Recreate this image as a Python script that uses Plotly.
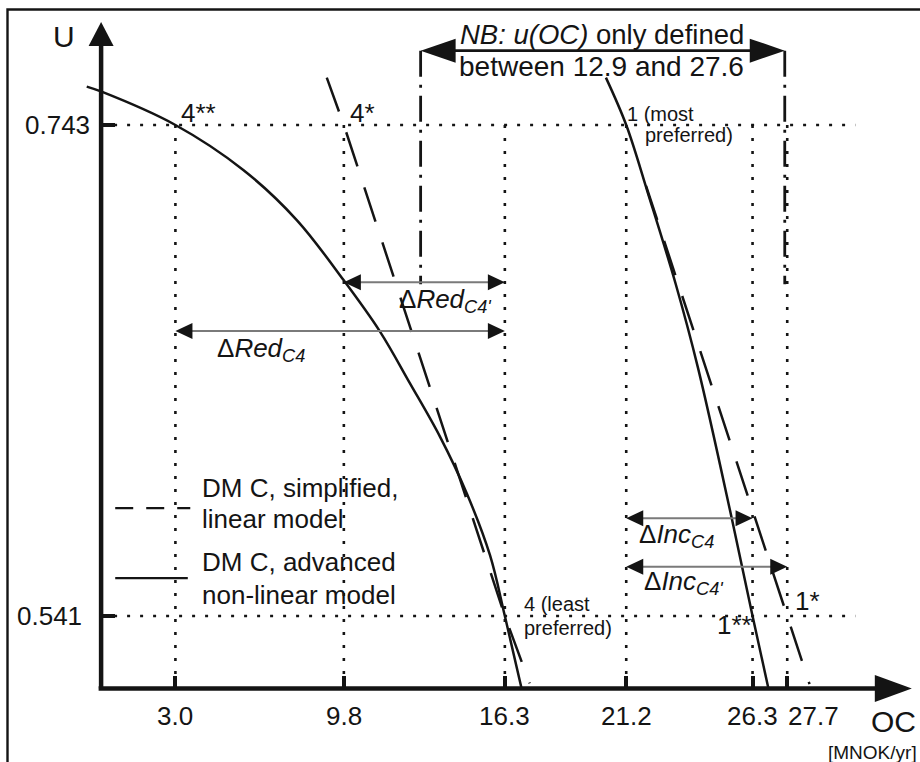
import plotly.graph_objects as go

FONT = "Liberation Sans, Arial, Helvetica, sans-serif"
INK = "#141414"
GREY = "#7a7a7a"

# ---------------- data ----------------
OC_TICKS = [3.0, 9.8, 16.3, 21.2, 26.3, 27.7]
OC_TICK_TEXT = ["3.0", "9.8", "16.3", "21.2", "26.3", "27.7"]
U_TICKS = [0.541, 0.743]
U_TICK_TEXT = ["0.541", "0.743"]
U_AXIS_MIN = 0.5112          # where the OC axis crosses the U axis
OC_DEFINED = [12.9, 27.6]    # u(OC) only defined between these

# DM C, advanced non-linear model, alternative 4
C4_NL_OC = [-0.58, 0.02, 3.0, 5.74, 7.90, 9.78, 11.26, 12.47, 13.68, 14.76, 15.70, 16.3, 16.98]
C4_NL_U = [0.7588, 0.7567, 0.743, 0.7245, 0.7039, 0.6793, 0.6580, 0.6367, 0.6148, 0.5915, 0.5660, 0.541, 0.5110]
# DM C, simplified linear model, alternative 4
C4_LIN_OC = [9.11, 9.8, 16.3, 17.3]
C4_LIN_U = [0.7625, 0.743, 0.541, 0.5133]
# DM C, advanced non-linear model, alternative 1
C1_NL_OC = [20.38, 21.2, 22.1, 23.2, 24.1, 25.46, 26.3, 26.95]
C1_NL_U = [0.7625, 0.743, 0.7142, 0.6775, 0.6430, 0.5812, 0.541, 0.5108]
# DM C, simplified linear model, alternative 1
C1_LIN_OC = [22.0, 27.7, 28.6]
C1_LIN_U = [0.718, 0.541, 0.513]

# Delta arrows: label, from OC, to OC, U level
DELTA_LABELS = ["Δ<i>Red</i><sub><i>C4'</i></sub>", "Δ<i>Red</i><sub><i>C4</i></sub>",
                "Δ<i>Inc</i><sub><i>C4</i></sub>", "Δ<i>Inc</i><sub><i>C4'</i></sub>"]
DELTA_FROM = [9.8, 3.0, 21.2, 21.2]
DELTA_TO = [16.3, 16.3, 26.3, 27.7]
DELTA_U = [0.6783, 0.6583, 0.5812, 0.5613]

# ---------------- view ----------------
X0, X1 = -4.0815, 33.060
Y0, Y1 = 0.48094, 0.79443
W, H = 920, 762

fig = go.Figure()

solid = dict(color=INK, width=2.5)
dashed = dict(color=INK, width=2.5, dash="36px,22px")

fig.add_trace(go.Scatter(x=C4_NL_OC, y=C4_NL_U, mode="lines",
                         line=dict(shape="spline", smoothing=1.0, **solid), hoverinfo="skip"))
fig.add_trace(go.Scatter(x=C1_NL_OC, y=C1_NL_U, mode="lines",
                         line=dict(shape="spline", smoothing=1.0, **solid), hoverinfo="skip"))
fig.add_trace(go.Scatter(x=C4_LIN_OC, y=C4_LIN_U, mode="lines", line=dashed, hoverinfo="skip"))
fig.add_trace(go.Scatter(x=C1_LIN_OC, y=C1_LIN_U, mode="lines", line=dashed, hoverinfo="skip"))

shapes = []


def seg(x0, y0, x1, y1, width, dash=None, color=INK, layer="below"):
    shapes.append(dict(type="line", xref="x", yref="y", x0=x0, y0=y0, x1=x1, y1=y1,
                       layer=layer, line=dict(color=color, width=width, dash=dash)))


def head(x, y, direction, length, half):
    """filled triangle (pixel sized) whose tip sits on data point (x, y)"""
    if direction == "right":
        path = f"M0,0 L{-length},{half} L{-length},{-half} Z"
    elif direction == "left":
        path = f"M0,0 L{length},{half} L{length},{-half} Z"
    else:  # up
        path = f"M0,0 L{-half},{-length} L{half},{-length} Z"
    shapes.append(dict(type="path", xref="x", yref="y", xsizemode="pixel", ysizemode="pixel",
                       xanchor=x, yanchor=y, path=path, fillcolor=INK,
                       line=dict(width=0), layer="above"))


DOT = "3px,10px"
DASHDOT = "26px,8px,3px,8px"

# dotted guide lines
for u in U_TICKS:
    seg(0, u, 30.45, u, 2.6, DOT)
for oc in OC_TICKS:
    seg(oc, max(U_TICKS), oc, U_AXIS_MIN, 2.6, DOT)

# definition range marker
top_u = 0.7736
for oc in OC_DEFINED:
    seg(oc, top_u, oc, DELTA_U[0] - 0.0008, 2.8, DASHDOT)
seg(OC_DEFINED[0] + 0.5, top_u, OC_DEFINED[1] - 0.5, top_u, 2.6, layer="above")
head(OC_DEFINED[0], top_u, "left", 35, 12)
head(OC_DEFINED[1], top_u, "right", 35, 12)

# delta arrows
for a, b, u in zip(DELTA_FROM, DELTA_TO, DELTA_U):
    seg(a + 0.3, u, b - 0.3, u, 2, color=GREY, layer="above")
    head(a, u, "left", 17, 8)
    head(b, u, "right", 17, 8)

# axes
seg(0, U_AXIS_MIN, 0, 0.777, 4.5, layer="above")
head(0, 0.7854, "up", 24, 12.5)
seg(-0.1, U_AXIS_MIN, 31.4, U_AXIS_MIN, 4.5, layer="above")
head(32.73, U_AXIS_MIN, "right", 37, 13.5)

# legend samples
seg(0.57, 0.5854, 3.6, 0.5854, 2.4, "18px,13px", layer="above")
seg(0.57, 0.5566, 3.5, 0.5566, 2.4, layer="above")

# outer frame
shapes.append(dict(type="rect", xref="paper", yref="paper", x0=7.5 / W, x1=1.05,
                   y0=-0.05, y1=1 - 9.5 / H, line=dict(color=INK, width=2.4), layer="above"))

ann = []


def txt(x, y, s, size, xanchor="left", yanchor="middle", color=INK, xshift=0):
    ann.append(dict(x=x, y=y, xref="x", yref="y", text=s, showarrow=False,
                    xanchor=xanchor, yanchor=yanchor, xshift=xshift,
                    font=dict(family=FONT, size=size, color=color)))


# tick labels (placed like the reference: "27.7" sits right of its tick)
OC_LABEL_SHIFT = [0, 0, 0, 0, 0, 26]
for v, s, sh in zip(OC_TICKS, OC_TICK_TEXT, OC_LABEL_SHIFT):
    txt(v, 0.4997, s, 26, "center", xshift=sh)
U_LABEL_SHIFT = [-17, -9]
for v, s, sh in zip(U_TICKS, U_TICK_TEXT, U_LABEL_SHIFT):
    txt(0, v, s, 26, "right", xshift=sh)

txt(-1.50, 0.7796, "U", 30, "center")
txt(32.0, 0.4978, "OC", 30, "center")
txt(33.02, 0.4850, "[MNOK/yr]", 19, "right")

txt(20.22, 0.7804, "<i>NB: u(OC)</i> only defined", 27.5, "center")
txt(20.22, 0.7670, "between 12.9 and 27.6", 28, "center")

txt(3.15, 0.7479, "4**", 26)
txt(9.97, 0.7479, "4*", 26)
txt(21.15, 0.7475, "1 (most", 20)
txt(21.88, 0.7389, "preferred)", 20)
txt(16.98, 0.5459, "4 (least", 20)
txt(16.98, 0.5361, "preferred)", 20)
txt(27.93, 0.5472, "1*", 26)
txt(24.78, 0.5373, "1**", 26)

DELTA_LABEL_POS = [(11.93, 0.6710), (4.60, 0.6508), (21.62, 0.5741), (21.83, 0.5546)]
for s, (x, y) in zip(DELTA_LABELS, DELTA_LABEL_POS):
    txt(x, y, s, 26)

txt(3.99, 0.5935, "DM C, simplified,", 26)
txt(3.99, 0.5809, "linear model", 26)
txt(3.99, 0.5632, "DM C, advanced", 26)
txt(3.99, 0.5498, "non-linear model", 26)

fig.update_layout(
    width=W, height=H, autosize=False,
    margin=dict(l=0, r=0, t=0, b=0, pad=0),
    paper_bgcolor="white", plot_bgcolor="white",
    showlegend=False,
    shapes=shapes, annotations=ann,
    font=dict(family=FONT, color=INK),
    xaxis=dict(range=[X0, X1], anchor="free", position=(U_AXIS_MIN - Y0) / (Y1 - Y0),
               showline=False, showgrid=False, zeroline=False,
               ticks="inside", ticklen=12, tickwidth=4, tickcolor=INK,
               tickvals=OC_TICKS, showticklabels=False, fixedrange=True),
    yaxis=dict(range=[Y0, Y1], anchor="free", position=(0 - X0) / (X1 - X0),
               showline=False, showgrid=False, zeroline=False,
               ticks="inside", ticklen=13, tickwidth=4, tickcolor=INK,
               tickvals=U_TICKS, showticklabels=False, fixedrange=True),
)

fig.write_html("out.html", config={"displayModeBar": False},
               post_script="document.body.style.margin='0px';document.body.style.overflow='hidden';")
